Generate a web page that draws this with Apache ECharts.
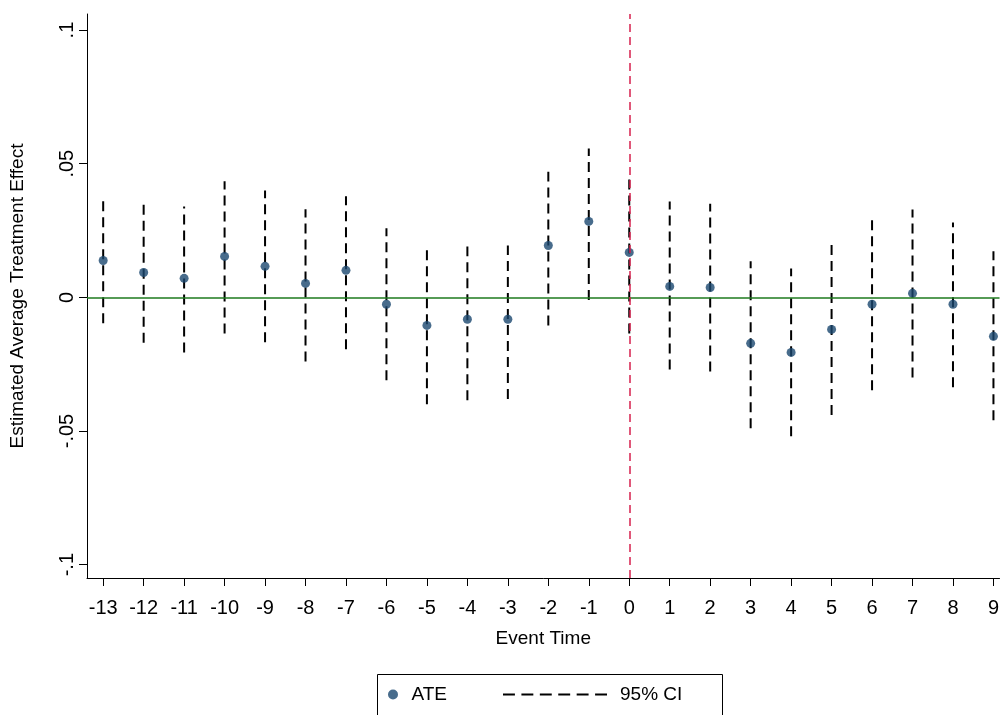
<!DOCTYPE html>
<html><head><meta charset="utf-8">
<script src="https://cdn.jsdelivr.net/npm/echarts@6/dist/echarts.min.js"></script>
<style>html,body{margin:0;background:#fff}#c{width:1002px;height:715px}</style>
</head><body><div id="c"></div>
<script>
var eventTime = [-13,-12,-11,-10,-9,-8,-7,-6,-5,-4,-3,-2,-1,0,1,2,3,4,5,6,7,8,9];
var ate = [0.0138,0.0093,0.0071,0.0153,0.0116,0.0052,0.0101,-0.0026,-0.0105,-0.0082,-0.0082,0.0194,0.0284,0.0168,0.0041,0.0037,-0.0172,-0.0206,-0.012,-0.0026,0.0015,-0.0026,-0.0146];
var ciHigh = [0.037,0.035,0.034,0.0434,0.040,0.033,0.0378,0.0258,0.0176,0.019,0.0194,0.047,0.0557,0.0456,0.0359,0.035,0.0135,0.0108,0.0198,0.0295,0.0329,0.028,0.0172];
var ciLow = [-0.0097,-0.017,-0.0206,-0.0135,-0.0168,-0.024,-0.0194,-0.031,-0.040,-0.0385,-0.038,-0.0105,-0.001,-0.0135,-0.027,-0.0277,-0.049,-0.052,-0.044,-0.0348,-0.030,-0.0336,-0.046];
var yTicks = [-0.1,-0.05,0,0.05,0.1];

var font = 'Liberation Sans, Arial, sans-serif';
var chart = echarts.init(document.getElementById('c'));
var ciData = eventTime.map(function(t,i){ return [t, ciLow[i], ciHigh[i]]; });
var ateData = eventTime.map(function(t,i){ return [t, ate[i]]; });
var legendText = {fontFamily: font, fontSize: 19, color: '#000', padding: [0, 0, 0, 8]};

chart.setOption({
  animation: false,
  grid: {left: 85, right: 2, top: 14, bottom: 137},
  graphic: [{type: 'rect', left: 375, top: 672, shape: {width: 345, height: 60},
    style: {fill: 'none', stroke: '#000', lineWidth: 1}}],
  legend: [
    {left: 388, top: 685, padding: 0, itemWidth: 11, itemHeight: 10,
      textStyle: legendText,
      data: [{name: 'ATE', icon: 'circle', itemStyle: {color: '#1a476f'}}]},
    {left: 503, top: 685, padding: 0, itemWidth: 104, itemHeight: 3, textStyle: legendText,
      data: [{name: '95% CI', icon: 'path://M0,0h11v2h-11zM17,0h11v2h-11zM34,0h11v2h-11zM51,0h11v2h-11zM68,0h11v2h-11zM85,0h11v2h-11z', itemStyle: {color: '#000'}}]}
  ],
  xAxis: {
    type: 'value', min: -13.4, max: 9.15,
    name: 'Event Time', nameLocation: 'middle', nameGap: 51,
    nameTextStyle: {fontFamily: font, fontSize: 19, color: '#000'},
    splitLine: {show: false},
    axisLine: {onZero: false, lineStyle: {color: '#000'}},
    axisTick: {show: true, length: 8, lineStyle: {color: '#000'}, customValues: eventTime},
    axisLabel: {fontFamily: font, fontSize: 20, color: '#000', margin: 20, customValues: eventTime}
  },
  yAxis: {
    type: 'value', min: -0.105, max: 0.106,
    name: 'Estimated Average Treatment Effect', nameLocation: 'middle', nameGap: 60,
    nameTextStyle: {fontFamily: font, fontSize: 19, color: '#000'},
    splitLine: {show: false},
    axisLine: {show: true, onZero: false, lineStyle: {color: '#000'}},
    axisTick: {show: true, length: 8, lineStyle: {color: '#000'}, customValues: yTicks},
    axisLabel: {fontFamily: font, fontSize: 20, color: '#000', rotate: 90, margin: 10, customValues: yTicks,
      formatter: function(v){ if (v === 0) return '0'; return String(v).replace('0.', '.'); }}
  },
  series: [
    {
      name: '95% CI', type: 'custom', data: ciData, z: 2,
      itemStyle: {color: '#000'},
      renderItem: function(params, api){
        var a = api.coord([api.value(0), api.value(1)]);
        var b = api.coord([api.value(0), api.value(2)]);
        return {type: 'line', shape: {x1: a[0], y1: a[1], x2: b[0], y2: b[1]},
          style: {stroke: '#000', lineWidth: 2, lineDash: [10, 6]}};
      },
      markLine: {
        silent: true, symbol: 'none', label: {show: false},
        data: [
          {yAxis: 0, lineStyle: {color: '#1e7a1e', type: 'solid', width: 1.5}},
          {xAxis: 0, lineStyle: {color: '#d6204e', type: [8, 5], width: 1.5}}
        ]
      }
    },
    {
      name: 'ATE', type: 'scatter', data: ateData, z: 3,
      symbol: 'circle', symbolSize: 9, itemStyle: {color: '#1a476f'}
    }
  ]
});
</script>
</body></html>
